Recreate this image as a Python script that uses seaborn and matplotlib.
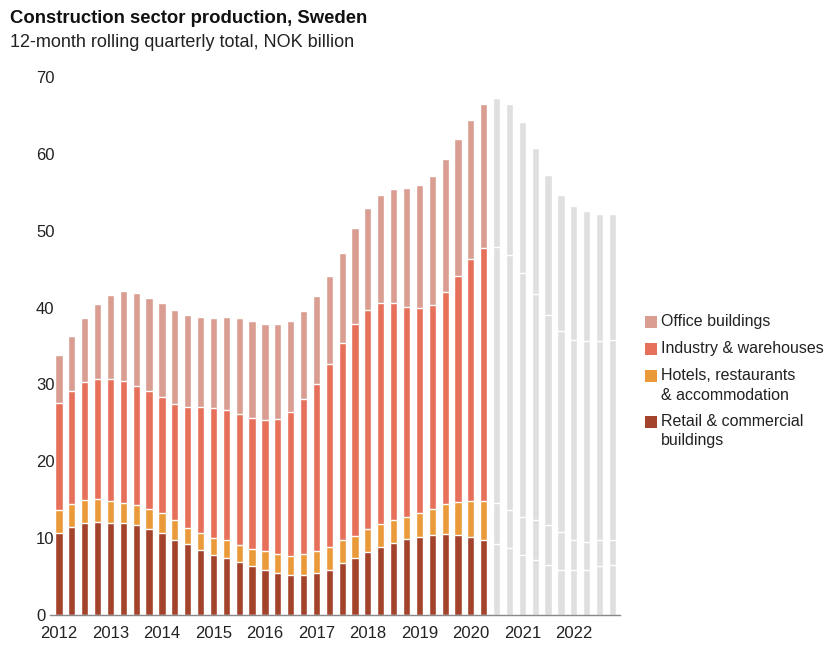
import numpy as np
import pandas as pd
import seaborn as sns
import matplotlib.pyplot as plt
from matplotlib.patches import Rectangle
from matplotlib.ticker import FixedLocator

# quarterly data, 2012Q1 - 2022Q4 (last 10 quarters are forecast)
years = list(range(2012, 2023))
n_actual = 34

retail = [10.7, 11.5, 11.9, 12.1, 11.9, 11.9, 11.7, 11.2, 10.7, 9.8, 9.2, 8.5,
          7.8, 7.4, 6.9, 6.4, 5.9, 5.5, 5.2, 5.2, 5.4, 5.9, 6.7, 7.4,
          8.2, 8.9, 9.3, 9.9, 10.1, 10.4, 10.5, 10.4, 10.1, 9.8, 9.2, 8.7,
          7.8, 7.2, 6.5, 5.9, 5.9, 5.9, 6.3, 6.5]
hotels = [2.9, 2.9, 3.1, 3.0, 2.9, 2.6, 2.6, 2.6, 2.6, 2.6, 2.1, 2.2,
          2.2, 2.3, 2.2, 2.2, 2.4, 2.4, 2.5, 2.7, 2.9, 3.0, 3.1, 2.9,
          3.0, 2.9, 3.0, 2.9, 3.1, 3.4, 3.9, 4.3, 4.7, 5.0, 5.3, 5.0,
          5.0, 5.2, 5.2, 4.9, 3.9, 3.6, 3.5, 3.3]
industry = [14.0, 14.7, 15.3, 15.6, 15.9, 16.0, 15.5, 15.3, 15.0, 15.1, 15.8, 16.3,
            16.9, 17.0, 17.0, 17.0, 17.1, 17.6, 18.7, 20.2, 21.7, 23.8, 25.6, 27.5,
            28.5, 28.8, 28.3, 27.3, 26.7, 26.5, 27.6, 29.4, 31.5, 32.9, 33.4, 33.1,
            31.7, 29.4, 27.3, 26.1, 26.0, 26.1, 25.8, 26.0]
office = [6.2, 7.2, 8.3, 9.8, 10.9, 11.6, 12.1, 12.2, 12.3, 12.2, 11.9, 11.8,
          11.7, 12.1, 12.5, 12.6, 12.5, 12.4, 11.9, 11.5, 11.5, 11.4, 11.7, 12.6,
          13.3, 14.0, 14.8, 15.5, 16.1, 16.8, 17.3, 17.8, 18.1, 18.8, 19.4, 19.7,
          19.6, 18.9, 18.2, 17.7, 17.4, 16.9, 16.6, 16.4]

labels = ["Office buildings", "Industry & warehouses",
          "Hotels, restaurants\n& accommodation", "Retail & commercial\nbuildings"]
colors = ["#d99d92", "#e7705a", "#eb9a3a", "#a3432b"]
grey = "#dfdfdf"

quarters = [f"{y}Q{q}" for y in years for q in range(1, 5)]
df = pd.DataFrame({"quarter": quarters, "retail": retail, "hotels": hotels,
                   "industry": industry, "office": office})
df["period"] = ["actual" if i < n_actual else "forecast" for i in range(len(df))]
df["c_retail"] = df["retail"]
df["c_hotels"] = df["c_retail"] + df["hotels"]
df["c_industry"] = df["c_hotels"] + df["industry"]
df["c_office"] = df["c_industry"] + df["office"]

sns.set_style("white")
plt.rcParams["font.family"] = ["Liberation Sans", "DejaVu Sans"]

W, H = 830, 650
fig = plt.figure(figsize=(W / 100, H / 100), dpi=100)
ax = fig.add_axes([0.0602, 0.054, 0.687, 0.8275])

# stacked bars: draw cumulative totals from the top layer down
for col, c in zip(["c_office", "c_industry", "c_hotels", "c_retail"], colors):
    sns.barplot(data=df, x="quarter", y=col, hue="period",
                palette={"actual": c, "forecast": grey}, dodge=False,
                width=0.56, edgecolor="white", linewidth=1.0, saturation=1,
                errorbar=None, legend=False, ax=ax)

ax.set_xlim(-0.7, 43.6)
ax.set_ylim(0, 70)
ax.set_xlabel("")
ax.set_ylabel("")

ax.set_xticks([i * 4 for i in range(len(years))])
ax.set_xticklabels([str(y) for y in years], fontsize=12, color="#222222")
ax.xaxis.set_minor_locator(FixedLocator([i * 4 - 0.5 for i in range(len(years) + 1)]))
ax.tick_params(axis="x", which="major", length=0, pad=8)
ax.tick_params(axis="x", which="minor", length=4, direction="in", color="#888888", width=0.8)

ax.set_yticks(range(0, 71, 10))
ax.set_yticklabels([str(v) for v in range(0, 71, 10)], fontsize=12, color="#222222")
ax.tick_params(axis="y", length=0, pad=10)
for t in ax.get_yticklabels():
    t.set_ha("left")

for s in ["top", "right", "left"]:
    ax.spines[s].set_visible(False)
ax.spines["bottom"].set_color("#888888")
ax.spines["bottom"].set_linewidth(1.0)
ax.spines["bottom"].set_zorder(5)

fig.text(0.012, 0.972, "Construction sector production, Sweden",
         fontsize=13.3, fontweight="bold", color="#111111", va="center")
fig.text(0.012, 0.934, "12-month rolling quarterly total, NOK billion",
         fontsize=13, color="#222222", va="center")

# legend drawn by hand so the swatch sits on the first line of each entry
y = 322
for lab, c in zip(labels, colors):
    fig.patches.append(Rectangle((645 / W, 1 - (y + 6) / H), 12 / W, 12 / H,
                                 transform=fig.transFigure, facecolor=c,
                                 edgecolor="none"))
    for k, line in enumerate(lab.split("\n")):
        fig.text(661 / W, 1 - (y + k * 19) / H, line, fontsize=11.5,
                 color="#222222", va="center", ha="left")
    y += 27 + 19 * lab.count("\n")

fig.savefig("out.png", dpi=100)
